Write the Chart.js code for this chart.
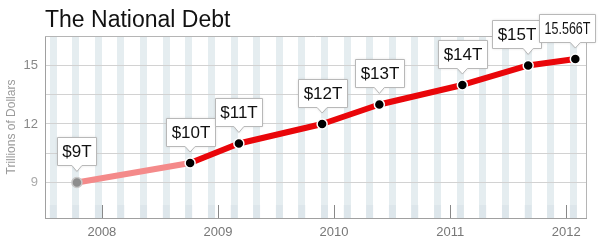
<!DOCTYPE html>
<html>
<head>
<meta charset="utf-8">
<script src="https://cdn.jsdelivr.net/npm/chart.js@4/dist/chart.umd.min.js"></script>
<style>
  html, body { margin: 0; padding: 0; background: #fff; }
  #wrap { width: 600px; height: 250px; position: relative; }
</style>
</head>
<body>
<div id="wrap"><canvas id="c" width="600" height="250"></canvas></div>
<script>
// ---- data ----
const pointYears = [2007.785, 2008.76, 2009.18, 2009.897, 2010.39, 2011.105, 2011.672, 2012.078];
const debtTrillions = [9.0, 10.0, 11.0, 12.0, 13.0, 14.0, 15.0, 15.33];
const pointLabels = ['$9T', '$10T', '$11T', '$12T', '$13T', '$14T', '$15T', '15.566T'];
const xTickYears = [2008, 2009, 2010, 2011, 2012];
const yGridValues = [9, 10.5, 12, 13.5, 15];
const yTickLabels = [9, 12, 15];
const titleText = 'The National Debt';
const yAxisTitle = 'Trillions of Dollars';

const FONT = '"Liberation Sans", Arial, sans-serif';
const PINK = '#f48a8a';
const RED = '#e9060a';

const decorPlugin = {
  id: 'decor',
  beforeDatasetsDraw(chart) {
    const { ctx, chartArea: a, scales } = chart;
    ctx.save();
    // darker foot of stripes
    const xs = scales.xs;
    ctx.fillStyle = 'rgba(200,212,218,0.25)';
    xs.ticks.forEach(t => {
      const px = xs.getPixelForValue(t.value);
      ctx.fillRect(px - 3.5, a.bottom - 13, 7, 13);
    });
    // inside tick marks
    ctx.strokeStyle = '#888';
    ctx.lineWidth = 1;
    xTickYears.forEach(v => {
      const px = Math.round(scales.x.getPixelForValue(v)) + 0.5;
      ctx.beginPath();
      ctx.moveTo(px, a.bottom - 13);
      ctx.lineTo(px, a.bottom);
      ctx.stroke();
    });
    // top / right border
    ctx.strokeStyle = '#b5b5b5';
    ctx.beginPath();
    ctx.moveTo(a.left, a.top + 0.5);
    ctx.lineTo(a.right + 0.5, a.top + 0.5);
    ctx.lineTo(a.right + 0.5, a.bottom);
    ctx.stroke();
    ctx.restore();
  },
  afterDatasetsDraw(chart, args, opts) {
    const { ctx } = chart;
    const meta = chart.getDatasetMeta(0);
    ctx.save();
    ctx.font = '17px ' + FONT;
    meta.data.forEach((pt, i) => {
      const text = pointLabels[i];
      const maxW = opts.maxTextWidth[i] || null;
      let tw = ctx.measureText(text).width;
      if (maxW && tw > maxW) tw = maxW;
      const w = Math.round(tw + 10);
      const h = 28;
      const cx = pt.x + (opts.shift[i] || 0);
      const bx = Math.round(cx - w / 2) + 0.5;
      const by = Math.round(pt.y - 17 - h) + 0.5;
      const tipY = pt.y - 11;
      ctx.beginPath();
      ctx.moveTo(bx, by);
      ctx.lineTo(bx + w, by);
      ctx.lineTo(bx + w, by + h);
      ctx.lineTo(pt.x + 5, by + h);
      ctx.lineTo(pt.x, tipY);
      ctx.lineTo(pt.x - 5, by + h);
      ctx.lineTo(bx, by + h);
      ctx.closePath();
      ctx.shadowColor = 'rgba(0,0,0,0.15)';
      ctx.shadowBlur = 3;
      ctx.fillStyle = '#fff';
      ctx.fill();
      ctx.shadowColor = 'transparent';
      ctx.strokeStyle = '#b8b8b8';
      ctx.lineWidth = 1;
      ctx.stroke();
      ctx.fillStyle = '#111';
      ctx.textAlign = 'center';
      ctx.textBaseline = 'middle';
      if (maxW) ctx.fillText(text, bx + w / 2, by + h / 2 + 1, maxW);
      else ctx.fillText(text, bx + w / 2, by + h / 2 + 1);
    });
    ctx.restore();
  },
  afterDraw(chart) {
    const { ctx } = chart;
    ctx.save();
    ctx.font = '23px ' + FONT;
    ctx.fillStyle = '#111';
    ctx.textAlign = 'left';
    ctx.textBaseline = 'alphabetic';
    ctx.fillText(titleText, 45, 27);
    ctx.restore();
  }
};

const data = pointYears.map((x, i) => ({ x, y: debtTrillions[i] }));

new Chart(document.getElementById('c'), {
  type: 'line',
  data: {
    datasets: [{
      data,
      borderColor: RED,
      borderWidth: 6,
      borderCapStyle: 'round',
      borderJoinStyle: 'round',
      segment: {
        borderColor: ctx => ctx.p0DataIndex === 0 ? PINK : RED
      },
      pointRadius: 5,
      pointBorderWidth: 1.5,
      pointBackgroundColor: debtTrillions.map((v, i) => i === 0 ? '#8d8d8d' : '#000'),
      pointBorderColor: debtTrillions.map((v, i) => i === 0 ? '#c8c8c8' : '#fff'),
      tension: 0,
      clip: false
    }]
  },
  options: {
    responsive: false,
    animation: false,
    events: [],
    layout: { padding: { left: 0, top: 36, right: 14, bottom: 0 } },
    plugins: {
      legend: { display: false },
      tooltip: { enabled: false },
      decor: { shift: [0, 0, 0, 0, 0, 0, -12, -8], maxTextWidth: [0, 0, 0, 0, 0, 0, 0, 46] }
    },
    scales: {
      x: {
        type: 'linear',
        position: 'bottom',
        min: 2007.51, max: 2012.17,
        afterBuildTicks: s => { s.ticks = xTickYears.map(v => ({ value: v })); },
        ticks: { callback: v => String(v), color: '#777', font: { family: FONT, size: 13 }, padding: 7, maxRotation: 0 },
        grid: { display: false, drawTicks: false },
        border: { color: '#a0a0a0' },
        afterFit: s => { s.height = 32; }
      },
      xs: {
        type: 'linear',
        position: 'bottom',
        z: -1,
        min: 2007.51, max: 2012.17,
        afterBuildTicks: s => {
          const arr = [];
          for (let k = 0; k < 24; k++) arr.push({ value: 2007.58 + k * 0.1948 });
          s.ticks = arr;
        },
        ticks: { display: false },
        grid: { color: '#e5edf0', lineWidth: 7, drawTicks: false },
        border: { display: false },
        afterFit: s => { s.height = 0; }
      },
      y: {
        min: 7.18, max: 16.51,
        afterBuildTicks: s => { s.ticks = yGridValues.map(v => ({ value: v })); },
        ticks: {
          callback: v => yTickLabels.includes(v) ? String(v) : '',
          color: ctx => ctx.tick && ctx.tick.value === 9 ? '#aaa' : '#888',
          font: { family: FONT, size: 13 },
          padding: 7
        },
        grid: { color: '#d2d2d2', drawTicks: false },
        border: { color: '#a0a0a0' },
        title: { display: true, text: yAxisTitle, color: '#9a9a9a', font: { family: FONT, size: 12 } },
        afterFit: s => { s.width = 45; }
      }
    }
  },
  plugins: [decorPlugin]
});
</script>
</body>
</html>
